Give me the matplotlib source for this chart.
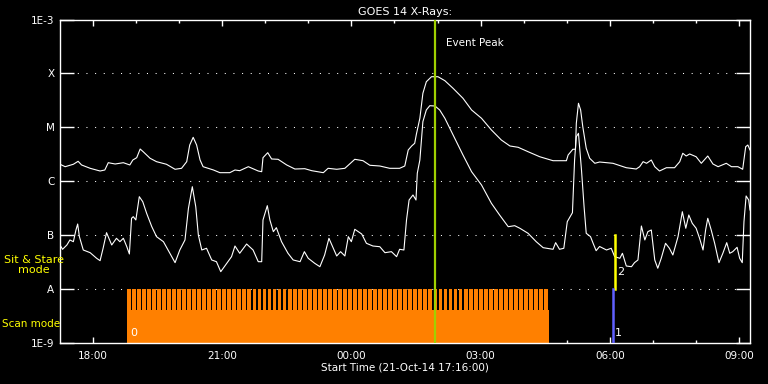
import numpy as np
import matplotlib.pyplot as plt
from matplotlib.ticker import FixedLocator, FuncFormatter, NullFormatter

# GOES 14 long channel (1-8 A), hours since 21-Oct-14 00:00, log10 flux [W/m^2]
t_long = [17.24, 17.36, 17.55, 17.66, 17.74, 17.94, 18.17, 18.28, 18.36, 18.52,
          18.71, 18.86, 18.93, 19.02, 19.10, 19.17, 19.33, 19.48, 19.71, 19.91,
          20.06, 20.18, 20.25, 20.33, 20.41, 20.49, 20.56, 20.80, 20.95, 21.18,
          21.30, 21.41, 21.61, 21.84, 21.92, 21.95, 22.06, 22.15, 22.30, 22.50,
          22.69, 22.92, 23.08, 23.35, 23.46, 23.66, 23.85, 24.08, 24.27, 24.43,
          24.66, 24.89, 25.12, 25.24, 25.32, 25.40, 25.47, 25.51, 25.59, 25.66,
          25.74, 25.86, 26.01, 26.17, 26.36, 26.59, 26.79, 27.02, 27.25, 27.48,
          27.68, 27.87, 28.10, 28.37, 28.68, 28.99, 29.03, 29.14, 29.20, 29.22,
          29.27, 29.32, 29.37, 29.45, 29.53, 29.65, 29.76, 30.07, 30.38, 30.61,
          30.69, 30.77, 30.85, 30.96, 31.04, 31.15, 31.31, 31.50, 31.62, 31.69,
          31.77, 31.85, 32.00, 32.12, 32.27, 32.39, 32.51, 32.70, 32.82, 32.97,
          33.08, 33.15, 33.20, 33.25]
log_long = [-5.685, -5.730, -5.685, -5.630, -5.698, -5.760, -5.810, -5.791, -5.656, -5.680,
            -5.656, -5.698, -5.606, -5.563, -5.402, -5.452, -5.574, -5.637, -5.685, -5.778,
            -5.760, -5.637, -5.328, -5.185, -5.328, -5.606, -5.730, -5.791, -5.841, -5.841,
            -5.791, -5.804, -5.730, -5.810, -5.823, -5.563, -5.470, -5.587, -5.593, -5.698,
            -5.773, -5.767, -5.804, -5.841, -5.760, -5.778, -5.760, -5.593, -5.619, -5.704,
            -5.717, -5.760, -5.760, -5.717, -5.420, -5.346, -5.296, -5.124, -4.832, -4.369,
            -4.154, -4.061, -4.061, -4.135, -4.276, -4.461, -4.678, -4.832, -5.049, -5.235,
            -5.346, -5.370, -5.452, -5.545, -5.619, -5.619, -5.513, -5.407, -5.407, -4.925,
            -4.554, -4.678, -4.988, -5.389, -5.574, -5.667, -5.643, -5.667, -5.749, -5.773,
            -5.730, -5.637, -5.667, -5.606, -5.730, -5.810, -5.749, -5.749, -5.637, -5.481,
            -5.532, -5.494, -5.545, -5.667, -5.532, -5.680, -5.730, -5.667, -5.730, -5.730,
            -5.778, -5.359, -5.328, -5.420]

# short channel (0.5-4 A)
t_short = [17.24, 17.30, 17.40, 17.47, 17.55, 17.61, 17.65, 17.69, 17.78, 17.94,
           18.09, 18.17, 18.24, 18.32, 18.44, 18.55, 18.63, 18.71, 18.79, 18.85,
           18.90, 18.94, 19.00, 19.08, 19.16, 19.25, 19.37, 19.48, 19.64, 19.79,
           19.91, 20.02, 20.14, 20.22, 20.31, 20.39, 20.45, 20.53, 20.64, 20.76,
           20.87, 20.97, 21.11, 21.22, 21.30, 21.41, 21.57, 21.72, 21.84, 21.92,
           21.95, 22.05, 22.11, 22.19, 22.26, 22.38, 22.53, 22.65, 22.81, 22.91,
           23.00, 23.15, 23.27, 23.38, 23.48, 23.58, 23.66, 23.75, 23.85, 23.93,
           24.00, 24.08, 24.24, 24.35, 24.50, 24.66, 24.78, 24.93, 25.05, 25.12,
           25.22, 25.28, 25.34, 25.43, 25.50, 25.53, 25.59, 25.66, 25.74, 25.82,
           25.94, 26.05, 26.17, 26.36, 26.59, 26.79, 27.02, 27.25, 27.44, 27.64,
           27.79, 27.91, 28.10, 28.29, 28.45, 28.68, 28.74, 28.83, 28.93, 29.01,
           29.13, 29.18, 29.22, 29.27, 29.34, 29.40, 29.45, 29.55, 29.61, 29.68,
           29.76, 29.92, 30.03, 30.11, 30.23, 30.29, 30.38, 30.50, 30.57, 30.65,
           30.73, 30.81, 30.88, 30.96, 31.04, 31.11, 31.19, 31.29, 31.38, 31.46,
           31.58, 31.68, 31.76, 31.83, 31.91, 32.00, 32.08, 32.16, 32.22, 32.27,
           32.35, 32.43, 32.53, 32.62, 32.71, 32.78, 32.85, 32.95, 33.01, 33.07,
           33.11, 33.16, 33.22, 33.25]
log_short = [-7.182, -7.262, -7.182, -7.089, -7.121, -6.904, -6.793, -7.028, -7.275, -7.325,
             -7.429, -7.473, -7.243, -6.954, -7.182, -7.058, -7.121, -7.058, -7.214, -7.349,
             -6.687, -6.657, -6.718, -6.286, -6.379, -6.594, -6.843, -7.028, -7.121, -7.336,
             -7.510, -7.275, -7.089, -6.501, -6.101, -6.472, -6.997, -7.275, -7.243, -7.460,
             -7.492, -7.677, -7.522, -7.399, -7.201, -7.336, -7.164, -7.275, -7.492, -7.492,
             -6.718, -6.453, -6.718, -6.935, -6.861, -7.121, -7.336, -7.460, -7.492, -7.306,
             -7.429, -7.522, -7.585, -7.368, -7.058, -7.243, -7.386, -7.306, -7.386, -7.028,
             -7.121, -6.891, -6.978, -7.151, -7.201, -7.214, -7.325, -7.306, -7.399, -7.262,
             -7.275, -6.718, -6.348, -6.255, -6.348, -5.852, -5.606, -4.895, -4.678, -4.599,
             -4.604, -4.678, -4.832, -5.142, -5.513, -5.823, -6.069, -6.409, -6.626, -6.843,
             -6.824, -6.872, -6.965, -7.121, -7.232, -7.262, -7.139, -7.262, -7.243, -6.750,
             -6.583, -5.606, -5.174, -5.111, -5.791, -6.472, -6.965, -7.028, -7.151, -7.288,
             -7.210, -7.275, -7.243, -7.399, -7.429, -7.336, -7.572, -7.585, -7.510, -7.460,
             -6.830, -7.089, -6.935, -6.904, -7.460, -7.614, -7.429, -7.151, -7.243, -7.368,
             -7.028, -6.565, -6.872, -6.626, -6.780, -6.872, -7.058, -7.275, -6.904, -6.687,
             -6.904, -7.151, -7.510, -7.336, -7.139, -7.336, -7.306, -7.225, -7.429, -7.510,
             -6.750, -6.273, -6.348, -6.533]

class_levels = [1e-9, 1e-8, 1e-7, 1e-6, 1e-5, 1e-4, 1e-3]
class_labels = ['1E-9', 'A', 'B', 'C', 'M', 'X', '1E-3']

t_start, t_end = 17.24, 33.25
event_peak = 25.95
scan_start, scan_end = 18.79, 28.58
raster_end = 28.53
raster_cadence = 7.0 / 60.0
scan_floor = 10 ** -8.39
stare_time = 30.11
stare_top = 1e-7
dump_time = 30.06

orange = '#ff8000'

fig = plt.figure(figsize=(7.68, 3.84), dpi=100, facecolor='black')
ax = fig.add_axes([60 / 768, 41 / 384, 690 / 768, 323.5 / 384])
ax.set_facecolor('black')
ax.set_yscale('log')
ax.set_xlim(t_start, t_end)
ax.set_ylim(1e-9, 1e-3)

# scan mode rasters
raster_t = np.arange(scan_start, raster_end, raster_cadence)
ax.bar(raster_t, 1e-8 - 1e-9, bottom=1e-9, width=raster_cadence * 0.76,
       align='edge', color=orange, linewidth=0, antialiased=False, zorder=2)
ax.fill_between([scan_start, scan_end], 1e-9, scan_floor, color=orange,
                linewidth=0, zorder=2)

# sit & stare / dump markers
ax.plot([stare_time, stare_time], [1e-8, stare_top], color='#ffff00', lw=1.8, zorder=4)
ax.plot([dump_time, dump_time], [1e-9, 1e-8], color='#6060ff', lw=1.8, zorder=4)

ax.plot(t_long, 10 ** np.array(log_long), color='white', lw=0.8, zorder=3)
ax.plot(t_short, 10 ** np.array(log_short), color='white', lw=0.8, zorder=3)

ax.axvline(event_peak, color='#a0d000', lw=1.6, zorder=5)
ax.text(event_peak + 0.25, 10 ** -3.43, 'Event Peak', color='white',
        fontsize=7.5, va='center', ha='left')

ax.text(18.87, 10 ** -8.82, '0', color='white', fontsize=8, va='center')
ax.text(30.12, 10 ** -8.82, '1', color='white', fontsize=8, va='center')
ax.text(30.16, 10 ** -7.69, '2', color='white', fontsize=8, va='center')

# axes styling
for s in ax.spines.values():
    s.set_color('white')
    s.set_linewidth(1.0)

ax.yaxis.set_major_locator(FixedLocator(class_levels))
ax.yaxis.set_minor_locator(FixedLocator([]))
ax.set_yticklabels(class_labels)
ax.yaxis.set_minor_formatter(NullFormatter())
ax.tick_params(axis='y', which='major', direction='in', length=10, width=1,
               colors='white', labelsize=7.5, left=True, right=True, pad=4)

hours = np.arange(18, 34)
ax.xaxis.set_major_locator(FixedLocator(hours[::3]))
ax.xaxis.set_minor_locator(FixedLocator(hours))
ax.xaxis.set_major_formatter(FuncFormatter(lambda v, p: '%02d:00' % (int(round(v)) % 24)))
ax.tick_params(axis='x', which='major', direction='in', length=4.5, width=1,
               colors='white', labelsize=7.5, top=True, bottom=True, pad=6)
ax.tick_params(axis='x', which='minor', direction='in', length=2.5, width=1,
               colors='white', top=True, bottom=True)

for lev in class_levels[1:-1]:
    ax.axhline(lev, color='white', lw=0.75, linestyle=(0, (1, 7.3)), zorder=1)

ax.set_title('GOES 14 X-Rays:', color='white', fontsize=8, pad=3)
ax.set_xlabel('Start Time (21-Oct-14 17:16:00)', color='white', fontsize=7.5, labelpad=1)

fig.text(34 / 768, 1 - 265 / 384, 'Sit & Stare\nmode', color='#ffff00', fontsize=8,
         ha='center', va='center', linespacing=1.0)
fig.text(2 / 768, 1 - 324 / 384, 'Scan mode', color='#ffff00', fontsize=7.5,
         ha='left', va='center')

fig.savefig('out.png', dpi=100, facecolor='black')
